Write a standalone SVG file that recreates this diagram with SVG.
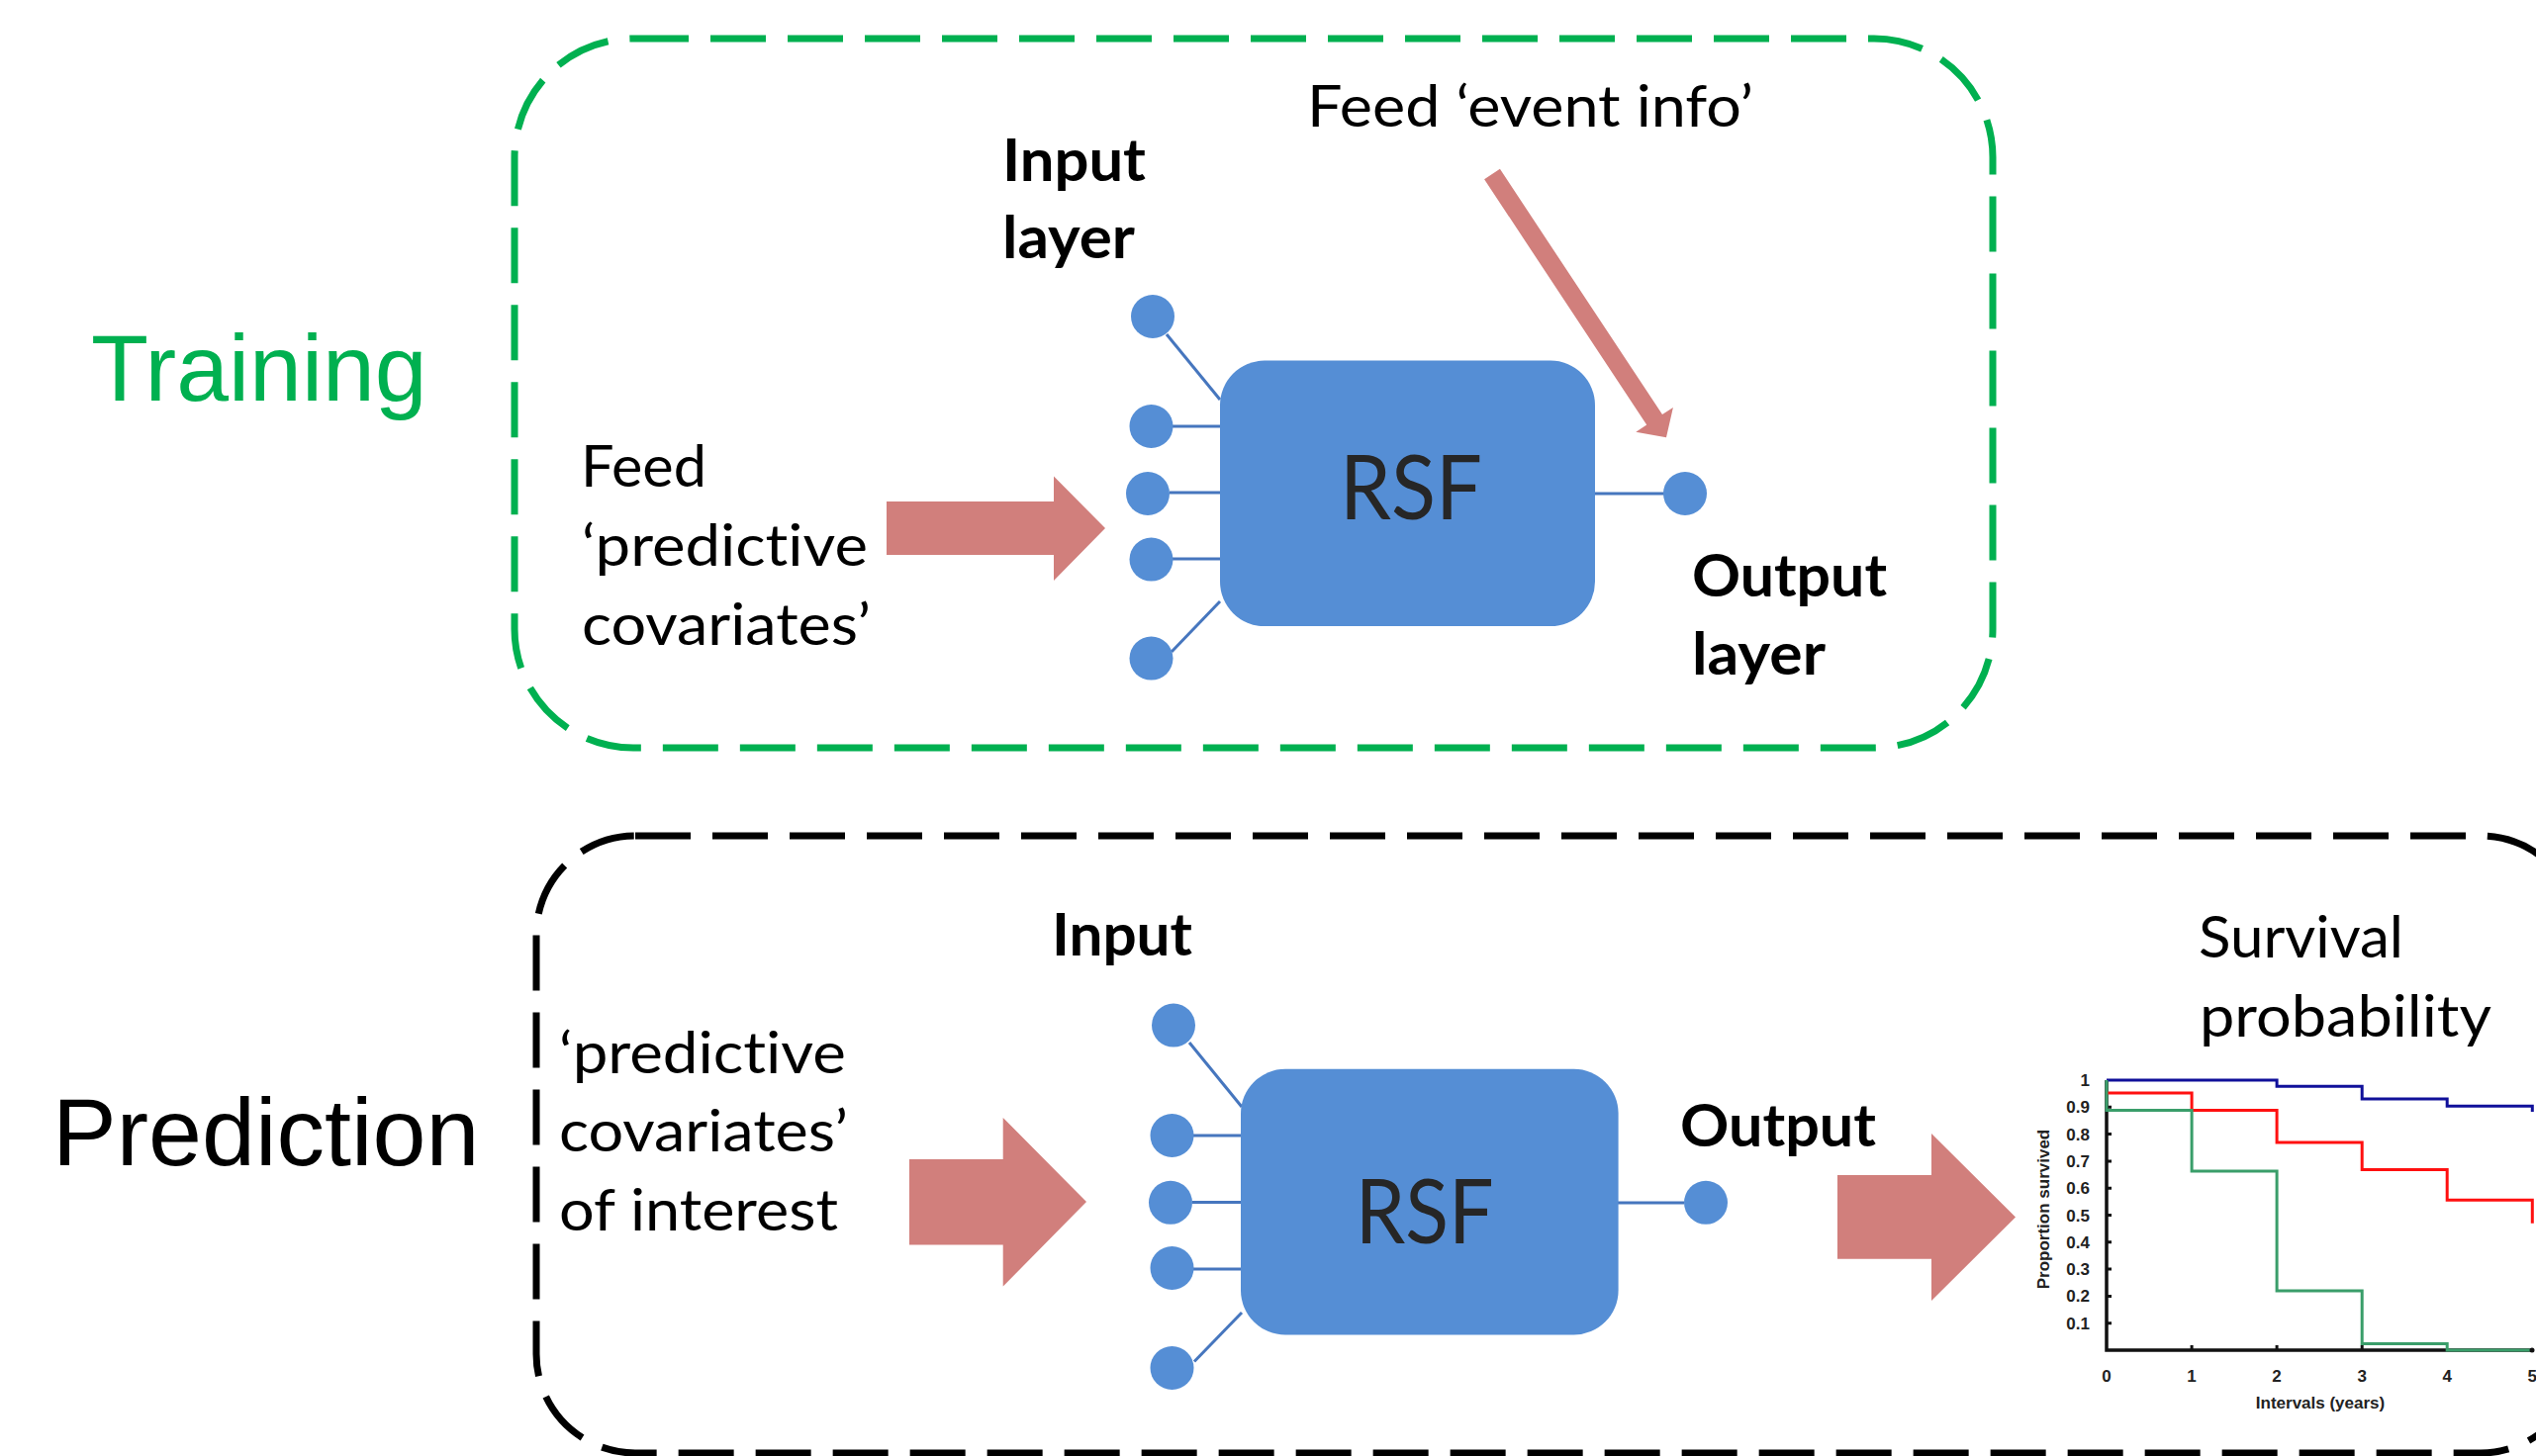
<svg xmlns="http://www.w3.org/2000/svg" width="2563" height="1472" viewBox="0 0 2563 1472">
<style>
.nd{fill:#558ED5}
.ln{stroke:#4676BE;stroke-width:3;fill:none}
.ar{fill:#D17F7C}
.t{font-family:Lato,'Open Sans',sans-serif;font-size:59px;fill:#000;font-variant-ligatures:none;font-feature-settings:"liga" 0,"clig" 0}
.b{font-weight:bold}
.rsf{font-family:Lato,'Open Sans',sans-serif;font-size:91px;fill:#262626}
.big{font-family:'Liberation Sans',Arial,sans-serif}
.ax{font-family:'Liberation Sans',Arial,sans-serif;font-weight:bold;font-size:17px;fill:#222}
.cv{fill:none;stroke-width:3}
</style>
<rect width="2563" height="1472" fill="#fff"/>

<g id="training-frame">
<rect x="520" y="39" width="1494" height="717" rx="120" fill="none" stroke="#00B050" stroke-width="7" stroke-dasharray="56 22"/>
<text class="big" x="92" y="405" font-size="95" fill="#00B050">Training</text>
</g>
<g id="prediction-frame">
<rect x="542" y="845" width="2065" height="624" rx="100" fill="none" stroke="#000" stroke-width="7" stroke-dasharray="56 22"/>
<text class="big" x="53" y="1178" font-size="97" fill="#000">Prediction</text>
</g>

<g id="connectors">
<line class="ln" x1="1179" y1="338" x2="1233" y2="404"/>
<line class="ln" x1="1185" y1="431" x2="1234" y2="431"/>
<line class="ln" x1="1182" y1="498" x2="1234" y2="498"/>
<line class="ln" x1="1185" y1="565" x2="1234" y2="565"/>
<line class="ln" x1="1184" y1="659" x2="1233" y2="608"/>
<line class="ln" x1="1611" y1="499" x2="1682" y2="499"/>
<line class="ln" x1="1202" y1="1054" x2="1255" y2="1119"/>
<line class="ln" x1="1206" y1="1148" x2="1255" y2="1148"/>
<line class="ln" x1="1205" y1="1215.5" x2="1255" y2="1215.5"/>
<line class="ln" x1="1206" y1="1283" x2="1255" y2="1283"/>
<line class="ln" x1="1207" y1="1376.5" x2="1255" y2="1327"/>
<line class="ln" x1="1634" y1="1216" x2="1702" y2="1216"/>
<polygon class="ar" points="896,507 1065,507 1065,481.5 1117,534 1065,587 1065,561 896,561"/>
<polygon class="ar" points="1515.9,170.8 1680,419.1 1690.9,411.9 1684,442.3 1653.3,436.7 1664.2,429.5 1500.1,181.2"/>
<polygon class="ar" points="919,1172 1013.7,1172 1013.7,1130 1098,1215 1013.7,1300.6 1013.7,1258.6 919,1258.6"/>
<polygon class="ar" points="1857,1188 1952,1188 1952,1146 2037,1230.5 1952,1315 1952,1272.8 1857,1272.8"/>
</g>

<g id="train-input-text">
<text class="t" x="587" y="491.5" textLength="127" lengthAdjust="spacingAndGlyphs">Feed</text>
<text class="t" x="588" y="571.5" textLength="289" lengthAdjust="spacingAndGlyphs">&#8216;predictive</text>
<text class="t" x="588" y="651.5" textLength="292" lengthAdjust="spacingAndGlyphs">covariates&#8217;</text>
</g>
<g id="train-input-layer">
<text class="t b" x="1013" y="183" textLength="145" lengthAdjust="spacingAndGlyphs">Input</text>
<text class="t b" x="1013" y="261" textLength="134" lengthAdjust="spacingAndGlyphs">layer</text>
<circle class="nd" cx="1165" cy="320" r="22"/>
<circle class="nd" cx="1163.5" cy="431" r="22"/>
<circle class="nd" cx="1160" cy="499" r="22"/>
<circle class="nd" cx="1163.5" cy="565.6" r="22"/>
<circle class="nd" cx="1163.5" cy="665.6" r="22"/>
</g>
<g id="train-event">
<text class="t" x="1321" y="128" textLength="451" lengthAdjust="spacingAndGlyphs">Feed &#8216;event info&#8217;</text>
</g>
<g id="train-rsf">
<rect class="nd" x="1233" y="364.6" width="379" height="268.5" rx="45"/>
<text class="rsf" x="1354" y="525" textLength="144" lengthAdjust="spacingAndGlyphs">RSF</text>
</g>
<g id="train-output">
<circle class="nd" cx="1703" cy="499" r="22"/>
<text class="t b" x="1710" y="603" textLength="197" lengthAdjust="spacingAndGlyphs">Output</text>
<text class="t b" x="1710" y="681.5" textLength="135" lengthAdjust="spacingAndGlyphs">layer</text>
</g>

<g id="pred-input-text">
<text class="t" x="565" y="1085" textLength="290" lengthAdjust="spacingAndGlyphs">&#8216;predictive</text>
<text class="t" x="565" y="1164.3" textLength="292" lengthAdjust="spacingAndGlyphs">covariates&#8217;</text>
<text class="t" x="565" y="1243.6" textLength="282" lengthAdjust="spacingAndGlyphs">of interest</text>
</g>
<g id="pred-input-layer">
<text class="t b" x="1063" y="966" textLength="142" lengthAdjust="spacingAndGlyphs">Input</text>
<circle class="nd" cx="1186" cy="1036.6" r="22"/>
<circle class="nd" cx="1184.5" cy="1148" r="22"/>
<circle class="nd" cx="1183" cy="1215.8" r="22"/>
<circle class="nd" cx="1184.5" cy="1282" r="22"/>
<circle class="nd" cx="1184.5" cy="1383" r="22"/>
</g>
<g id="pred-rsf">
<rect class="nd" x="1254" y="1080.7" width="381.6" height="268.8" rx="45"/>
<text class="rsf" x="1369.7" y="1256.5" textLength="140" lengthAdjust="spacingAndGlyphs">RSF</text>
</g>
<g id="pred-output">
<circle class="nd" cx="1724" cy="1215.8" r="22"/>
<text class="t b" x="1698" y="1159" textLength="198" lengthAdjust="spacingAndGlyphs">Output</text>
</g>

<g id="survival-chart">
<text class="t" x="2222" y="968" textLength="207" lengthAdjust="spacingAndGlyphs">Survival</text>
<text class="t" x="2223" y="1047.7" textLength="295" lengthAdjust="spacingAndGlyphs">probability</text>
<path d="M2129,1092 V1365 H2559.3" fill="none" stroke="#111" stroke-width="3.5"/>
<path d="M2129,1337.7 h5 M2129,1310.4 h5 M2129,1283.1 h5 M2129,1255.8 h5 M2129,1228.5 h5 M2129,1201.2 h5 M2129,1173.9 h5 M2129,1146.6 h5 M2129,1119.3 h5 M2215.1,1365 v-5 M2301.1,1365 v-5 M2387.2,1365 v-5" stroke="#111" stroke-width="3" fill="none"/>
<path class="cv" stroke="#10109A" d="M2129,1092 H2301.1 V1098.3 H2387.2 V1111.1 H2473.2 V1118.2 H2559.3 V1123.9"/>
<path class="cv" stroke="#FF1010" d="M2129,1105.1 H2215.1 V1122.6 H2301.1 V1155.1 H2387.2 V1182.6 H2473.2 V1213.2 H2559.3 V1236.7"/>
<path class="cv" stroke="#3A9E6A" d="M2129,1092 V1122.6 H2215.1 V1184 H2301.1 V1304.9 H2387.2 V1358.4 H2473.2 V1365 H2559.3"/>
<circle cx="2559" cy="1365" r="2.5" fill="#111"/>
<g class="ax" text-anchor="end">
<text x="2112" y="1098">1</text>
<text x="2112" y="1125.3">0.9</text>
<text x="2112" y="1152.6">0.8</text>
<text x="2112" y="1179.9">0.7</text>
<text x="2112" y="1207.2">0.6</text>
<text x="2112" y="1234.5">0.5</text>
<text x="2112" y="1261.8">0.4</text>
<text x="2112" y="1289.1">0.3</text>
<text x="2112" y="1316.4">0.2</text>
<text x="2112" y="1343.7">0.1</text>
</g>
<g class="ax" text-anchor="middle">
<text x="2129" y="1397">0</text>
<text x="2215.1" y="1397">1</text>
<text x="2301.1" y="1397">2</text>
<text x="2387.2" y="1397">3</text>
<text x="2473.2" y="1397">4</text>
<text x="2559.3" y="1397">5</text>
<text x="2345" y="1424">Intervals (years)</text>
<text transform="translate(2071,1222.5) rotate(-90)">Proportion survived</text>
</g>
</g>
</svg>
